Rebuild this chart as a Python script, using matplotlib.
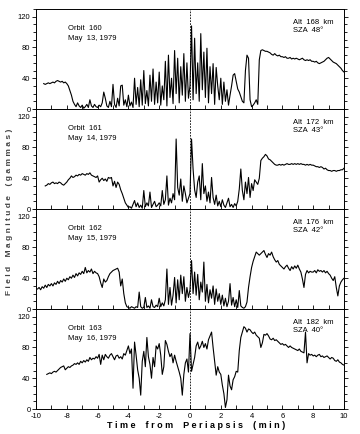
#magnetometer traces, 4 orbits
import matplotlib.pyplot as plt
import numpy as np

nan = np.nan

#time from periapsis in minutes, one sample every 0.1 min from -10 to 10
time = np.arange(-100, 101) / 10

orbits = ["Orbit  160", "Orbit  161", "Orbit  162", "Orbit  163"]
dates = ["May  13, 1979", "May  14, 1979", "May  15, 1979", "May  16, 1979"]
alts = ["Alt  168  km", "Alt  172  km", "Alt  176  km", "Alt  182  km"]
szas = ["SZA  48°", "SZA  43°", "SZA  42°", "SZA  40°"]

#field magnitude (gammas), rows of one minute each
b160 = [nan, nan, nan, nan, nan, 33, 32, 33, 34, 33,
        34, 35, 34, 36, 37, 36, 35, 36, 34, 35,
        33, 30, 24, 18, 10, 6, 3, 8, 4, 2,
        5, 1, 3, 6, 2, 12, 4, 2, 6, 3,
        2, 5, 3, 8, 22, 14, 4, 2, 10, 3,
        32, 6, 2, 14, 4, 30, 31, 5, 12, 3,
        18, 4, 9, 2, 40, 6, 28, 3, 38, 5,
        50, 7, 24, 4, 44, 10, 52, 6, 35, 8,
        48, 5, 30, 12, 62, 4, 70, 15, 40, 7,
        76, 20, 66, 8, 55, 18, 72, 10, 60, 14,
        30, 108, 12, 92, 20, 60, 10, 98, 25, 74,
        15, 79, 8, 55, 20, 59, 6, 54, 30, 12,
        40, 6, 35, 10, 25, 5, 18, 30, 44, 46,
        36, 26, 22, 16, 10, 8, 50, 70, 66, 12,
        3, 5, 8, 12, 6, 64, 76, 77, 76, 75,
        75, 74, 73, 71, 70, 72, 70, 69, 70, 68,
        68, 67, 68, 66, 66, 67, 65, 66, 65, 66,
        65, 64, 65, 66, 64, 63, 64, 63, 64, 62,
        62, 61, 62, 60, 59, 60, 61, 62, 64, 66,
        67, 65, 63, 61, 60, 59, 57, 55, 53, 50,
        48]

b161 = [nan, nan, nan, nan, nan, nan, 30, 31, 33, 32,
        34, 35, 33, 34, 33, 35, 34, 32, 31, 33,
        35, 38, 40, 43, 41, 42, 44, 43, 45, 44,
        46, 45, 44, 46, 45, 47, 44, 43, 42, 41,
        43, 35, 38, 40, 37, 39, 36, 41, 40, 41,
        30, 36, 28, 35, 32, 25, 20, 14, 8, 5,
        2, 3, 1, 6, 11, 3, 8, 2, 5, 1,
        24, 3, 8, 4, 22, 2, 6, 10, 3, 5,
        8, 4, 24, 6, 12, 43, 5, 14, 8, 20,
        12, 91, 28, 18, 39, 10, 30, 20, 8, 14,
        20, 91, 52, 25, 15, 35, 43, 12, 59, 20,
        30, 10, 22, 8, 41, 15, 6, 18, 4, 10,
        3, 12, 5, 2, 8, 14, 3, 6, 2, 7,
        4, 10, 26, 52, 24, 12, 35, 20, 41, 15,
        33, 24, 38, 35, 32, 40, 63, 66, 68, 71,
        69, 65, 64, 62, 60, 58, 57, 57, 58, 57,
        58, 57, 58, 59, 58, 58, 59, 58, 59, 58,
        59, 58, 59, 58, 58, 57, 58, 57, 58, 57,
        57, 56, 55, 55, 54, 55, 54, 52, 53, 51,
        50, 50, 49, 50, 50, 49, 50, 50, 51, 51,
        53]

b162 = [nan, 26, 28, 25, 29, 27, 31, 28, 32, 30,
        33, 30, 34, 32, 36, 33, 37, 35, 39, 36,
        40, 38, 42, 40, 44, 41, 46, 43, 47, 45,
        49, 46, 54, 47, 50, 48, 52, 46, 49, 47,
        46, 42, 34, 28, 39, 35, 37, 42, 46, 48,
        50, 51, 52, 53, 48, 30, 39, 20, 8, 3,
        2, 1, 3, 2, 1, 3, 2, 22, 3, 1,
        2, 15, 2, 4, 1, 12, 3, 2, 5, 3,
        14, 3, 8, 4, 12, 52, 6, 28, 5, 18,
        41, 8, 38, 12, 44, 20, 42, 10, 28, 15,
        25, 63, 20, 48, 18, 45, 12, 35, 22, 61,
        10, 32, 8, 25, 14, 30, 6, 26, 10, 20,
        6, 18, 4, 14, 3, 10, 33, 5, 15, 3,
        12, 2, 24, 4, 2, 1, 3, 9, 28, 42,
        54, 62, 68, 74, 72, 70, 72, 74, 76, 71,
        67, 72, 70, 74, 68, 64, 61, 63, 58, 56,
        54, 52, 55, 57, 53, 50, 55, 52, 56, 53,
        57, 52, 48, 39, 28, 45, 50, 47, 49, 48,
        48, 50, 47, 51, 49, 50, 48, 50, 47, 49,
        46, 44, 40, 37, 42, 28, 17, 30, 35, 38,
        40]

b163 = [nan, nan, nan, nan, nan, nan, nan, 45, 46, 47,
        46, 48, 49, 48, 50, 52, 54, 55, 56, 51,
        53, 55, 54, 56, 57, 59, 58, 60, 58, 62,
        60, 63, 61, 64, 62, 67, 64, 66, 65, 68,
        66, 71, 58, 70, 64, 71, 68, 66, 70, 72,
        68, 64, 69, 70, 66, 68, 65, 72, 70, 76,
        82, 72, 78, 27, 87, 70, 51, 40, 18, 62,
        75, 55, 93, 68, 58, 40, 67, 55, 82, 78,
        85, 70, 45, 55, 89, 84, 75, 68, 72, 60,
        70, 62, 55, 48, 40, 18, 45, 60, 65, 48,
        98, 49, 58, 67, 82, 87, 78, 82, 88, 80,
        85, 78, 90, 95, 100, 80, 62, 44, 55, 48,
        45, 31, 20, 2, 12, 44, 30, 25, 38, 42,
        49, 48, 76, 93, 100, 107, 105, 100, 104, 103,
        100, 98, 100, 96, 94, 92, 80, 86, 97, 96,
        98, 95, 91, 90, 92, 89, 90, 88, 86, 84,
        85, 83, 84, 82, 80, 82, 80, 79, 78, 77,
        76, 78, 75, 74, 73, 100, 60, 72, 70, 71,
        69, 70, 68, 70, 71, 68, 69, 67, 68, 69,
        67, 65, 67, 66, 63, 62, 64, 61, 60, 58,
        57]

series = [b160, b161, b162, b163]

plt.rcParams['font.family'] = ['Liberation Sans', 'DejaVu Sans']
fig = plt.figure(figsize=(3.6, 4.34), dpi=100)

left = 36/360
width = 308/360
h = 100/434
bottom0 = 1 - 9/434

for i in range(4):
    ax = fig.add_axes([left, bottom0 - (i+1)*h, width, h])
    ax.plot(time, np.array(series[i], dtype=float), color='black', lw=0.8)
    ax.axvline(0, color='black', lw=0.6, ls=(0, (2, 1.5)))
    ax.set_xlim(-10, 10)
    ax.set_ylim(0, 130)
    for s in ax.spines.values():
        s.set_linewidth(0.7)

    ax.set_yticks([0, 40, 80, 120])
    ax.set_yticks(np.arange(0, 131, 10), minor=True)
    ax.tick_params(axis='y', which='both', direction='out', left=True, right=True,
                   labelsize=5.5, pad=1, width=0.6)
    ax.tick_params(axis='y', which='major', length=3)
    ax.tick_params(axis='y', which='minor', length=2)

    if i == 3:
        ax.set_xticks(np.arange(-10, 11, 2))
        ax.set_xticklabels([str(v) for v in range(-10, 11, 2)])
        ax.set_xticks(np.arange(-10, 11, 1), minor=True)
        ax.tick_params(axis='x', which='both', direction='in', length=3, width=0.6,
                       labelsize=5.5, pad=3)
    else:
        ax.set_xticks(np.arange(-10, 11, 1))
        ax.tick_params(axis='x', direction='in', length=3, width=0.6, labelbottom=False)

    ax.text(0.104, 0.80, orbits[i], transform=ax.transAxes, fontsize=5.5, va='center')
    ax.text(0.104, 0.71, dates[i], transform=ax.transAxes, fontsize=5.5, va='center')
    ax.text(0.835, 0.87, alts[i], transform=ax.transAxes, fontsize=5.5, va='center')
    ax.text(0.835, 0.79, szas[i], transform=ax.transAxes, fontsize=5.5, va='center')

fig.text(10/360, 1 - 212/434, "F i e l d    M a g n i t u d e    ( g a m m a s )",
         rotation=90, ha='center', va='center', fontsize=6, fontweight='bold',
         color='#444444')
fig.text(196/360, 1 - 426/434, "T i m e    f r o m    P e r i a p s i s    ( m i n )",
         ha='center', va='center', fontsize=6.5, fontweight='bold')

plt.savefig('out.png', dpi=100)
